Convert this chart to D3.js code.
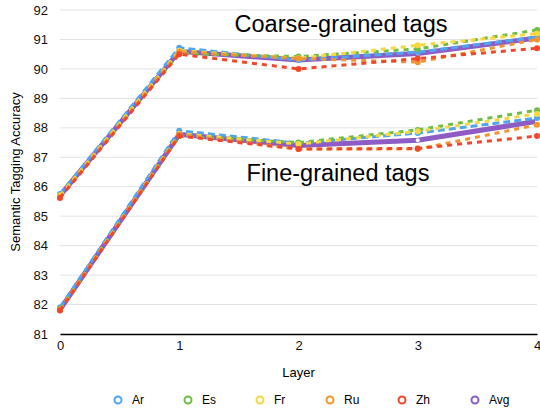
<!DOCTYPE html>
<html>
<head>
<meta charset="utf-8">
<script src="https://cdn.jsdelivr.net/npm/d3@7"></script>
<style>
  body { margin: 0; background: #fff; }
  svg { font-family: "Liberation Sans", Arial, sans-serif; }
</style>
</head>
<body>
<div id="chart"></div>
<script>
// layers on x axis
const layers = [0, 1, 2, 3, 4]
const yTicks = [81, 82, 83, 84, 85, 86, 87, 88, 89, 90, 91, 92]

const seriesNames = ["Ar", "Es", "Fr", "Ru", "Zh", "Avg"]
const colors = ["#4ea6f0", "#6cbd45", "#f6d93c", "#f19530", "#f2472b", "#8d5cc4"]

// coarse-grained tags
const coarseAr = [85.75, 90.72, 90.3, 90.57, 91.08]
const coarseEs = [85.7, 90.52, 90.42, 90.68, 91.32]
const coarseFr = [85.7, 90.62, 90.36, 90.8, 91.2]
const coarseRu = [85.65, 90.58, 90.35, 90.23, 91.0]
const coarseZh = [85.62, 90.5, 90.0, 90.35, 90.7]
const coarseAvg = [85.7, 90.6, 90.3, 90.52, 91.05]

// fine-grained tags
const fineAr = [81.9, 87.9, 87.48, 87.82, 88.33]
const fineEs = [81.85, 87.72, 87.5, 87.93, 88.6]
const fineFr = [81.82, 87.8, 87.45, 87.88, 88.47]
const fineRu = [81.82, 87.78, 87.28, 87.28, 88.1]
const fineZh = [81.8, 87.72, 87.28, 87.3, 87.72]
const fineAvg = [81.83, 87.78, 87.4, 87.58, 88.22]

const coarse = [coarseAr, coarseEs, coarseFr, coarseRu, coarseZh, coarseAvg]
const fine = [fineAr, fineEs, fineFr, fineRu, fineZh, fineAvg]

const W = 540, H = 412
const m = {left: 60, right: 3, top: 10, bottom: 78}

const svg = d3.select('#chart')
  .append('svg')
    .attr('width', W)
    .attr('height', H)

const x = d3.scaleLinear().domain([0, 4]).range([m.left, W - m.right])
const y = d3.scaleLinear().domain([81, 92]).range([H - m.bottom, m.top])

// gridlines
svg.append('g')
  .selectAll('line')
  .data(yTicks.slice(1))
  .enter()
  .append('line')
    .attr('x1', x(0))
    .attr('x2', x(4))
    .attr('y1', d => y(d))
    .attr('y2', d => y(d))
    .style('stroke', '#e2e2e2')
    .style('stroke-width', 1)

// y axis labels
const yAxis = svg.append('g')
  .attr('transform', `translate(${m.left - 12},0)`)
  .call(d3.axisLeft(y).tickValues(yTicks).tickSize(0).tickPadding(0))
yAxis.select('.domain').remove()
yAxis.selectAll('text').style('font-size', '13px').style('fill', '#111')

// x axis
const xAxis = svg.append('g')
  .attr('transform', `translate(0,${y(81)})`)
  .call(d3.axisBottom(x).tickValues(layers).tickSize(0).tickPadding(7).tickFormat(d3.format('d')))
xAxis.select('.domain').style('stroke', '#000').style('stroke-width', 1.5)
xAxis.selectAll('text').style('font-size', '13px').style('fill', '#111')

// axis titles
svg.append('text')
  .attr('transform', `translate(20,${(y(81) + y(92)) / 2}) rotate(-90)`)
  .attr('text-anchor', 'middle')
  .style('font-size', '13px')
  .text('Semantic Tagging Accuracy')

svg.append('text')
  .attr('x', x(2))
  .attr('y', 377)
  .attr('text-anchor', 'middle')
  .style('font-size', '13px')
  .text('Layer')

const line = d3.line()
  .x((d, i) => x(layers[i]))
  .y(d => y(d))

function drawGroup(group) {
  // avg first so the dashed ones sit above it
  const order = [5, 0, 1, 2, 3, 4]
  order.forEach(k => {
    const vals = group[k]
    const g = svg.append('g')
    g.append('path')
      .datum(vals)
      .attr('d', line)
      .style('fill', 'none')
      .style('stroke', colors[k])
      .style('stroke-width', k === 5 ? 5 : 3)
      .style('stroke-dasharray', k === 5 ? null : (k === 0 ? '7,4' : '5,5'))
    g.selectAll('circle')
      .data(vals)
      .enter()
      .append('circle')
        .attr('cx', (d, i) => x(layers[i]))
        .attr('cy', d => y(d))
        .attr('r', k === 5 ? 2 : 3)
        .style('fill', k === 5 ? '#fff' : colors[k])
  })
}

drawGroup(fine)
drawGroup(coarse)

// annotations
svg.append('text')
  .attr('x', 341)
  .attr('y', 32)
  .attr('text-anchor', 'middle')
  .style('font-size', '23.5px')
  .text('Coarse-grained tags')

svg.append('text')
  .attr('x', 338)
  .attr('y', 181)
  .attr('text-anchor', 'middle')
  .style('font-size', '23.5px')
  .text('Fine-grained tags')

// legend
const legX = [118, 188, 260, 330, 402, 475]
const leg = svg.append('g')
  .selectAll('g')
  .data(seriesNames)
  .enter()
  .append('g')
    .attr('transform', (d, i) => `translate(${legX[i]},400)`)
leg.append('circle')
  .attr('r', 3.5)
  .style('fill', '#fff')
  .style('stroke', (d, i) => colors[i])
  .style('stroke-width', 2)
leg.append('text')
  .attr('x', 14)
  .attr('dy', '0.35em')
  .style('font-size', '12px')
  .text(d => d)
</script>
</body>
</html>
